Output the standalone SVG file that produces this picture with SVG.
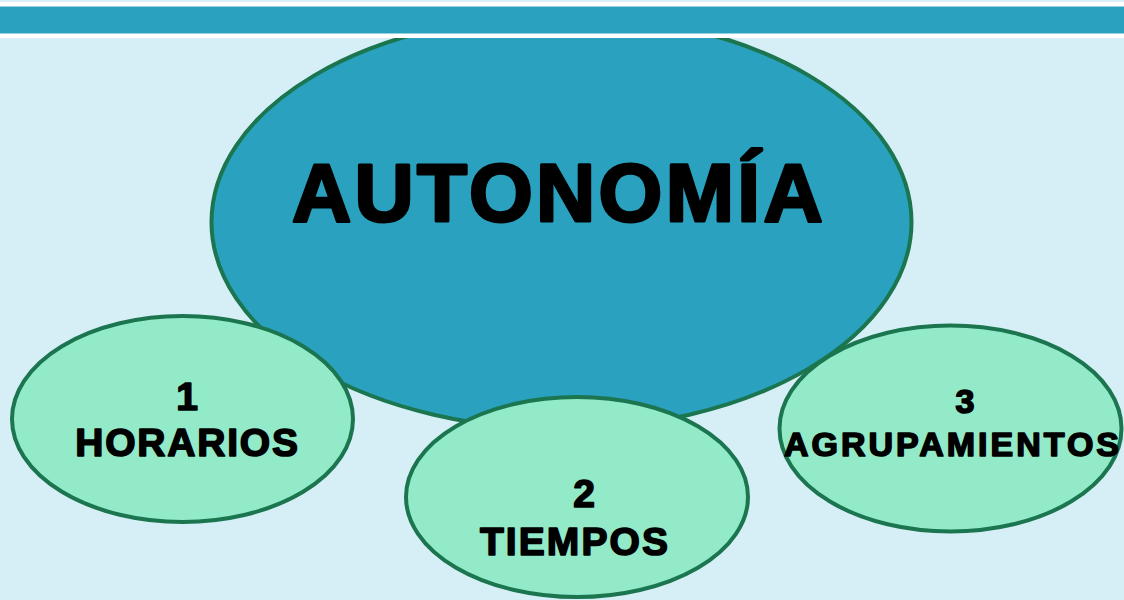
<svg xmlns="http://www.w3.org/2000/svg" width="1124" height="600" viewBox="0 0 1124 600">
<style>
.big{fill:#2AA1BE;stroke:#1B7650;stroke-width:4}
.sub{fill:#93EAC8;stroke:#1B7650;stroke-width:4}
.t{font-family:"Liberation Sans",Arial,sans-serif;font-weight:bold;fill:#000;stroke:#000;stroke-linejoin:round;text-anchor:middle}
.s{stroke-width:1.6}
</style>
<rect x="0" y="0" width="1124" height="600" fill="#D6EEF5"/>
<g id="autonomia">
<ellipse class="big" cx="561.5" cy="222" rx="350" ry="207"/>
<text class="t" x="559" y="221" font-size="82" letter-spacing="3.3" stroke-width="3">AUTONOMÍA</text>
</g>
<rect x="0" y="2" width="1124" height="36" fill="#FFFFFF"/>
<rect x="0" y="6.5" width="1124" height="27" fill="#2AA1BE"/>
<g id="connectors"></g>
<g id="horarios">
<ellipse class="sub" cx="182.5" cy="419" rx="170.5" ry="103"/>
<text class="t s" x="187" y="410" font-size="39">1</text>
<text class="t s" x="187.5" y="456" font-size="39" letter-spacing="1.8">HORARIOS</text>
</g>
<g id="tiempos">
<ellipse class="sub" cx="577" cy="497" rx="171" ry="100"/>
<text class="t s" x="584" y="507" font-size="39">2</text>
<text class="t s" x="575" y="555" font-size="39" letter-spacing="2.1">TIEMPOS</text>
</g>
<g id="agrupamientos">
<ellipse class="sub" cx="950.5" cy="428.5" rx="171" ry="103"/>
<text class="t s" x="965" y="413" font-size="34">3</text>
<text class="t s" x="953" y="456" font-size="34" letter-spacing="3">AGRUPAMIENTOS</text>
</g>
</svg>
